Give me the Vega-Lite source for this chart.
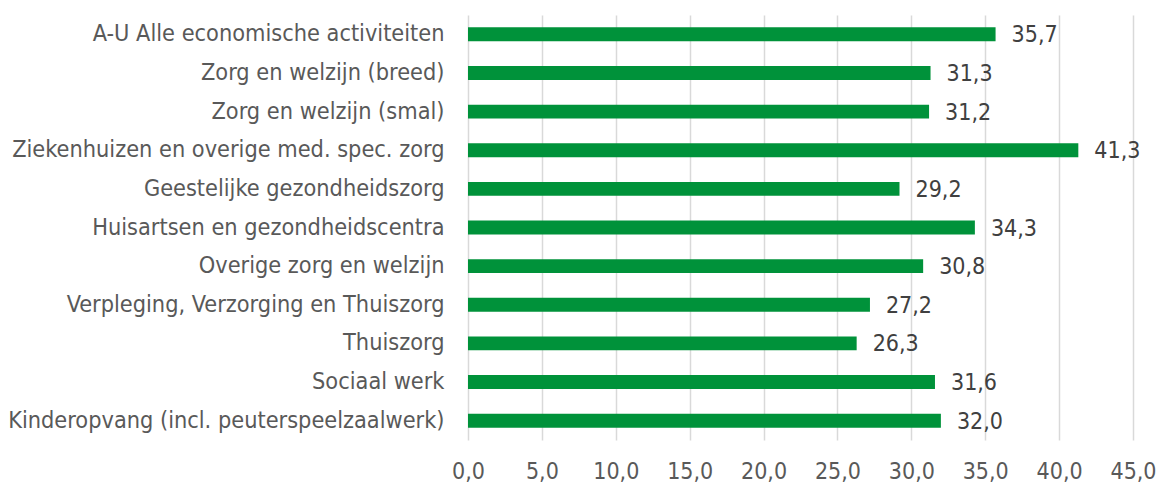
{
  "$schema": "https://vega.github.io/schema/vega-lite/v6.json",
  "width": 665,
  "height": 425,
  "autosize": "none",
  "padding": {"left": 468, "top": 15, "right": 25, "bottom": 44},
  "background": "white",
  "config": {
    "locale": {"number": {"decimal": ",", "thousands": ".", "grouping": [3], "currency": ["€", ""]}},
    "view": {"stroke": null},
    "font": "DejaVu Sans Condensed"
  },
  "data": {
    "values": [
      {"cat": "A-U Alle economische activiteiten", "v": 35.7},
      {"cat": "Zorg en welzijn (breed)", "v": 31.3},
      {"cat": "Zorg en welzijn (smal)", "v": 31.2},
      {"cat": "Ziekenhuizen en overige med. spec. zorg", "v": 41.3},
      {"cat": "Geestelijke gezondheidszorg", "v": 29.2},
      {"cat": "Huisartsen en gezondheidscentra", "v": 34.3},
      {"cat": "Overige zorg en welzijn", "v": 30.8},
      {"cat": "Verpleging, Verzorging en Thuiszorg", "v": 27.2},
      {"cat": "Thuiszorg", "v": 26.3},
      {"cat": "Sociaal werk", "v": 31.6},
      {"cat": "Kinderopvang (incl. peuterspeelzaalwerk)", "v": 32.0}
    ]
  },
  "encoding": {
    "y": {
      "field": "cat", "type": "nominal", "sort": null, "title": null,
      "scale": {"paddingInner": 0.64, "paddingOuter": 0.32},
      "axis": {"domain": false, "ticks": false, "labelFontSize": 23.3, "labelColor": "#595959", "labelPadding": 24, "labelLimit": 600, "labelFont": "DejaVu Sans Condensed"}
    }
  },
  "layer": [
    {
      "mark": {"type": "bar", "color": "#00923a"},
      "encoding": {
        "x": {
          "field": "v", "type": "quantitative", "title": null,
          "scale": {"domain": [0, 45], "nice": false},
          "axis": {"values": [0, 5, 10, 15, 20, 25, 30, 35, 40, 45], "format": ".1f", "domain": false, "ticks": false, "grid": true, "gridColor": "#d9d9d9", "gridWidth": 1.5, "labelFontSize": 23, "labelColor": "#595959", "labelPadding": 20, "labelFont": "DejaVu Sans Condensed", "labelFlush": false}
        }
      }
    },
    {
      "mark": {"type": "text", "align": "left", "baseline": "middle", "dx": 16, "dy": 1, "fontSize": 23, "color": "#404040", "font": "DejaVu Sans Condensed"},
      "encoding": {
        "x": {"field": "v", "type": "quantitative"},
        "text": {"field": "v", "type": "quantitative", "format": ".1f"}
      }
    }
  ]
}
